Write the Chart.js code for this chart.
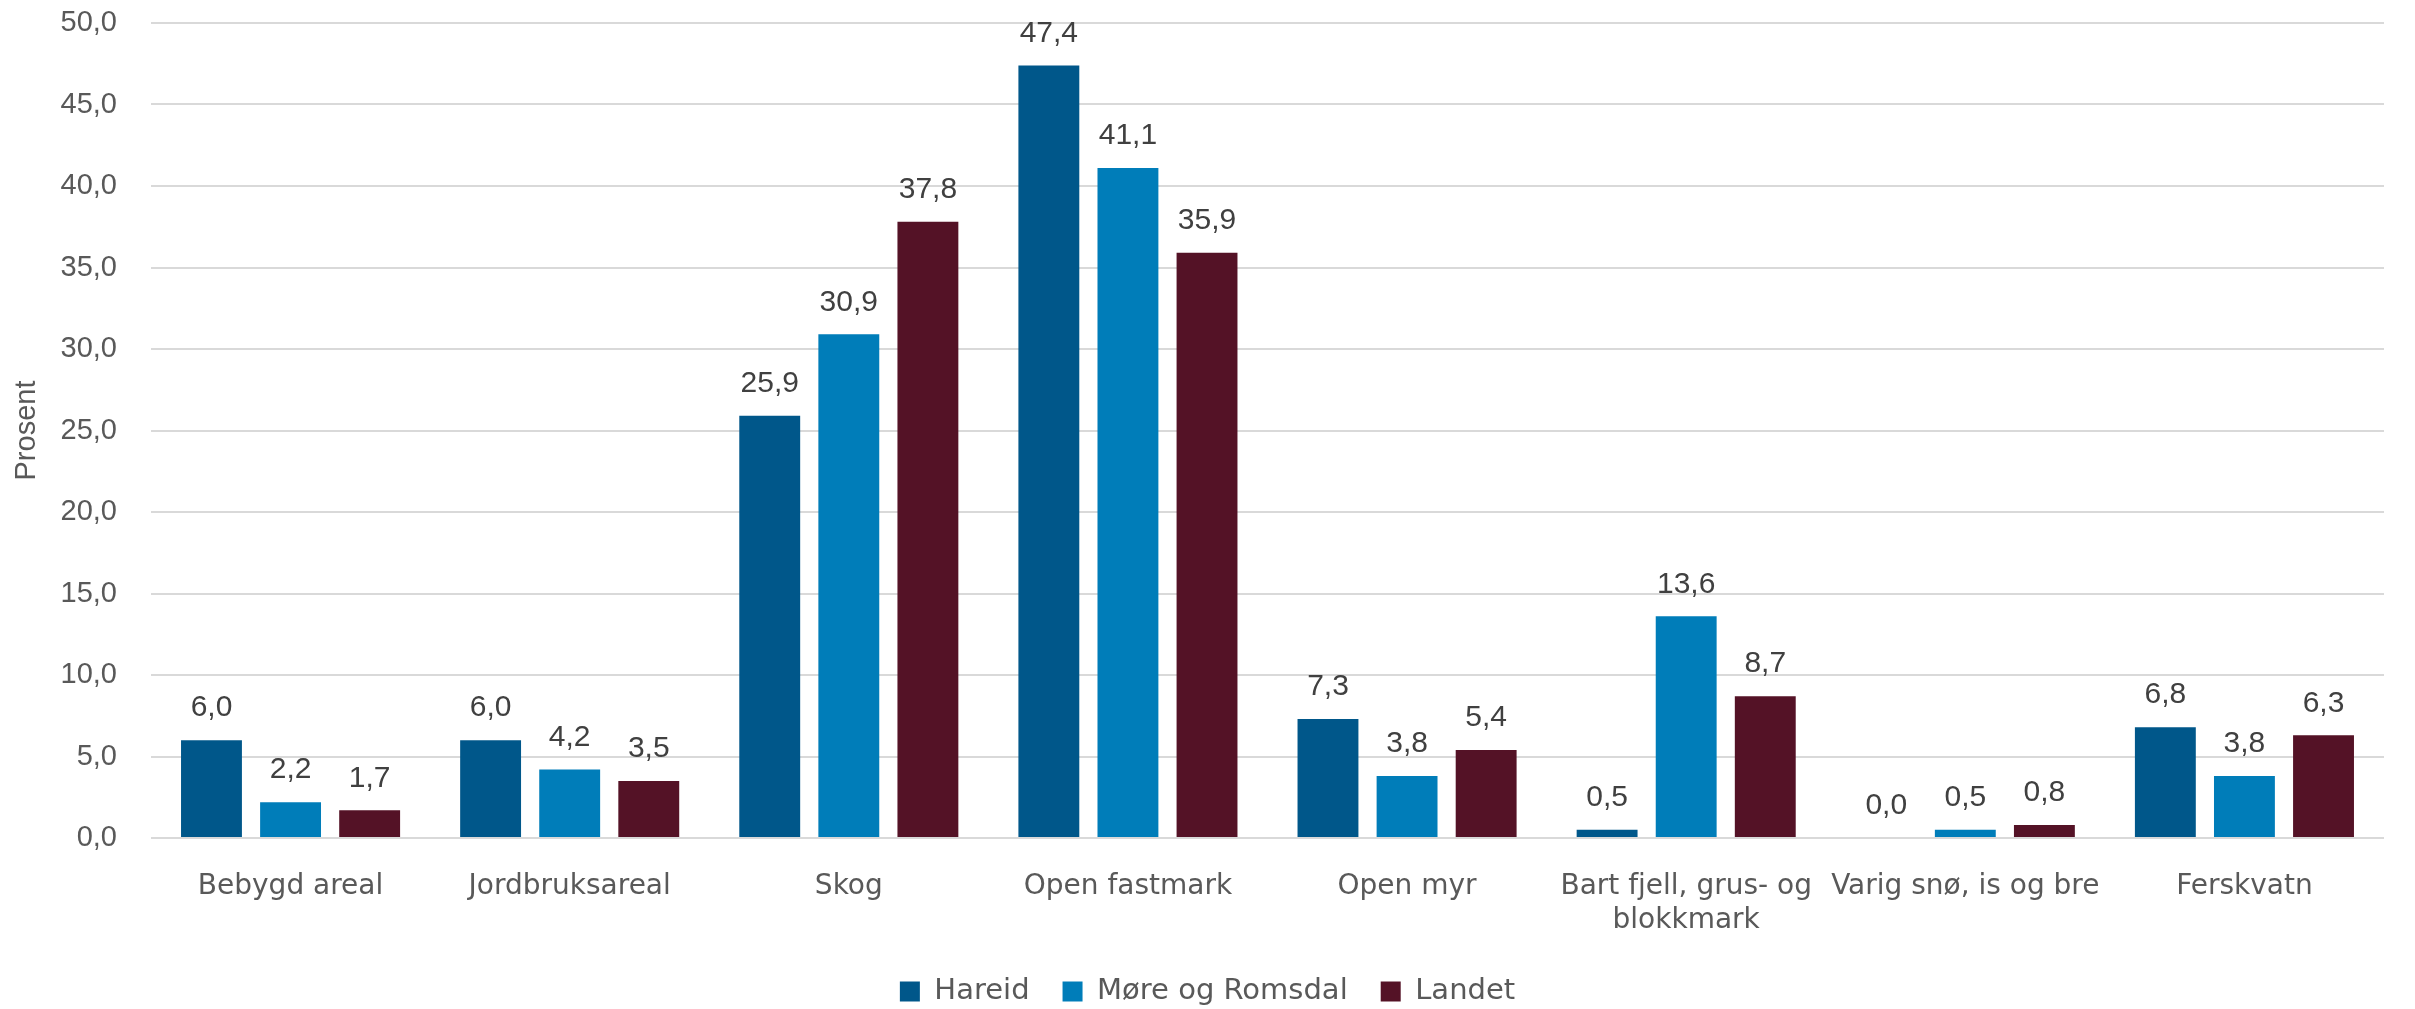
<!DOCTYPE html>
<html>
<head>
<meta charset="utf-8">
<script src="https://cdn.jsdelivr.net/npm/chart.js@4.4.1/dist/chart.umd.min.js"></script>
<style>
html,body{margin:0;padding:0;background:#fff;}
#wrap{width:2415px;height:1009px;position:relative;}
</style>
</head>
<body>
<div id="wrap"><canvas id="c" width="2415" height="1009"></canvas></div>
<script>
const categories = ["Bebygd areal", "Jordbruksareal", "Skog", "Open fastmark", "Open myr", ["Bart fjell, grus- og", "blokkmark"], "Varig snø, is og bre", "Ferskvatn"];
const seriesNames = ["Hareid", "Møre og Romsdal", "Landet"];
const hareid = [6.0, 6.0, 25.9, 47.4, 7.3, 0.5, 0.0, 6.8];
const moreRomsdal = [2.2, 4.2, 30.9, 41.1, 3.8, 13.6, 0.5, 3.8];
const landet = [1.7, 3.5, 37.8, 35.9, 5.4, 8.7, 0.8, 6.3];
const colors = ["#00578A", "#007DB9", "#541226"];
const yTitle = "Prosent";

const fmt = v => v.toFixed(1).replace('.', ',');
const catFont = '"DejaVu Sans", sans-serif';
const numFont = '"Liberation Sans", Arial, sans-serif';

const labelPlugin = {
  id: 'barLabels',
  afterDatasetsDraw(chart) {
    const ctx = chart.ctx;
    ctx.save();
    ctx.font = '30px ' + numFont;
    ctx.fillStyle = '#404040';
    ctx.textAlign = 'center';
    ctx.textBaseline = 'bottom';
    chart.data.datasets.forEach((ds, i) => {
      const meta = chart.getDatasetMeta(i);
      meta.data.forEach((bar, j) => {
        ctx.fillText(fmt(ds.data[j]), bar.x, bar.y - 17);
      });
    });
    ctx.restore();
  }
};

new Chart(document.getElementById('c'), {
  type: 'bar',
  data: {
    labels: categories,
    datasets: [
      { label: seriesNames[0], data: hareid, backgroundColor: colors[0] },
      { label: seriesNames[1], data: moreRomsdal, backgroundColor: colors[1] },
      { label: seriesNames[2], data: landet, backgroundColor: colors[2] }
    ]
  },
  options: {
    responsive: false,
    animation: false,
    devicePixelRatio: 1,
    layout: { padding: { top: 23, right: 31, bottom: -7, left: 31 } },
    datasets: { bar: { barPercentage: 0.77, categoryPercentage: 0.85 } },
    plugins: {
      legend: {
        position: 'bottom',
        labels: {
          font: { family: catFont, size: 29 },
          color: '#595959',
          boxWidth: 20, boxHeight: 20,
          padding: 33
        }
      },
      tooltip: { enabled: false }
    },
    scales: {
      x: {
        grid: { display: false },
        border: { display: false },
        afterFit(scale) { scale.height = 106; },
        ticks: {
          font: { family: catFont, size: 28 },
          color: '#595959',
          maxRotation: 0, autoSkip: false, padding: 24
        }
      },
      y: {
        min: 0, max: 50,
        afterFit(scale) { scale.width = 120; scale.paddingTop = 0; scale.paddingBottom = 0; },
        grid: { color: '#d9d9d9', lineWidth: 2, drawTicks: false },
        border: { display: false },
        ticks: {
          stepSize: 5,
          padding: 34,
          font: { family: numFont, size: 29 },
          color: '#595959',
          callback: v => fmt(v)
        },
        title: {
          display: true, text: yTitle,
          font: { family: numFont, size: 29 },
          color: '#595959',
          padding: { top: -21, bottom: 0 }
        }
      }
    }
  },
  plugins: [labelPlugin]
});
</script>
</body>
</html>
